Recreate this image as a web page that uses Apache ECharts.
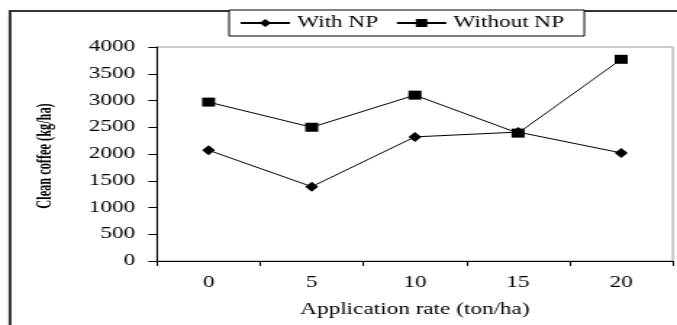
<!DOCTYPE html>
<html>
<head>
<meta charset="utf-8">
<script src="https://cdn.jsdelivr.net/npm/echarts@6/dist/echarts.min.js"></script>
<style>
  html, body { margin: 0; padding: 0; background: #fff; overflow: hidden; }
  #wrap { width: 677px; height: 325px; overflow: hidden; }
  /* chart is laid out narrow, then widened horizontally */
  #chart { width: 467px; height: 325px; transform: scaleX(1.4497); transform-origin: 0 0; }
</style>
</head>
<body>
<div id="wrap"><div id="chart"></div></div>
<script>
// Application rate (ton/ha)
const categories = ['0', '5', '10', '15', '20'];
// Clean coffee yield (kg/ha)
const withNP = [2070, 1390, 2320, 2410, 2020];
const withoutNP = [2970, 2500, 3100, 2390, 3770];
const yMin = 0, yMax = 4000, yStep = 500;

const FONT = '"Liberation Serif", "Times New Roman", serif';
const chart = echarts.init(document.getElementById('chart'), null, { renderer: 'canvas' });

chart.setOption({
  animation: false,
  backgroundColor: '#fff',
  textStyle: { fontFamily: FONT, color: '#000' },
  graphic: [
    {
      type: 'rect', z: 0, silent: true,
      shape: { x: 6.9, y: 11, width: 600, height: 400 },
      style: { fill: 'none', stroke: '#333', lineWidth: 2 }
    },
    {
      type: 'text', z: 5, silent: true,
      x: 31.5, y: 156, rotation: Math.PI / 2, scaleX: 0.88,
      style: {
        text: 'Clean coffee (kg/ha)',
        font: 'bold 14px ' + FONT,
        fill: '#000',
        align: 'center',
        verticalAlign: 'middle'
      }
    }
  ],
  legend: {
    left: 158, top: 10,
    padding: [5, 14, 5, 7],
    itemWidth: 34, itemHeight: 10, itemGap: 12,
    backgroundColor: '#fff',
    borderColor: '#000', borderWidth: 1,
    textStyle: { fontFamily: FONT, fontSize: 16, color: '#000' },
    data: ['With NP', 'Without NP']
  },
  grid: {
    left: 108.3, right: 2.9, top: 47, bottom: 64,
    show: true, borderColor: '#999', borderWidth: 1, backgroundColor: 'transparent'
  },
  xAxis: {
    type: 'category',
    data: categories,
    boundaryGap: true,
    name: 'Application rate (ton/ha)',
    nameLocation: 'middle',
    nameGap: 41,
    nameTextStyle: { fontFamily: FONT, fontSize: 16, color: '#000' },
    axisLine: { lineStyle: { color: '#000', width: 1 } },
    axisTick: { show: true, length: 5, alignWithLabel: false, lineStyle: { color: '#000' } },
    axisLabel: { fontFamily: FONT, fontSize: 16, color: '#000', margin: 14 },
    splitLine: { show: false }
  },
  yAxis: {
    type: 'value',
    min: yMin, max: yMax, interval: yStep,
    axisLine: { show: true, lineStyle: { color: '#000', width: 1 } },
    axisTick: { show: true, length: 6, lineStyle: { color: '#000' } },
    axisLabel: {
      fontFamily: FONT, fontSize: 16, color: '#000', margin: 15,
      formatter: (v) => String(v)
    },
    splitLine: { show: false }
  },
  series: [
    {
      name: 'With NP', type: 'line', data: withNP,
      symbol: 'diamond', symbolSize: [9, 10],
      lineStyle: { color: '#000', width: 1 },
      itemStyle: { color: '#000' }
    },
    {
      name: 'Without NP', type: 'line', data: withoutNP,
      symbol: 'rect', symbolSize: [9, 9],
      lineStyle: { color: '#000', width: 1 },
      itemStyle: { color: '#000' }
    }
  ]
});
</script>
</body>
</html>
